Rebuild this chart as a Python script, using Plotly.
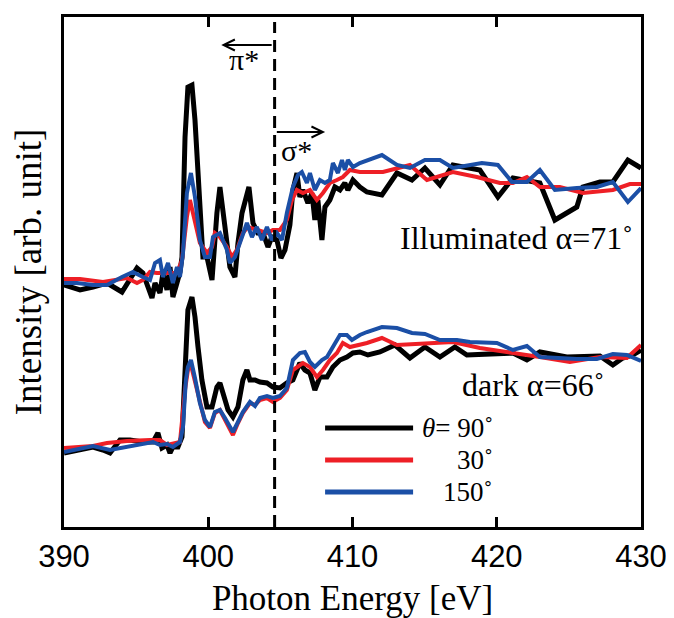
import plotly.graph_objects as go

# ---------------- data ----------------
# Illuminated, alpha = 71 deg (upper spectra)
ill_90_x = [390.0, 391.11, 392.01, 392.98, 394.02, 394.44, 395.06, 395.47, 396.10, 396.31, 396.65, 396.86,
            397.14, 397.35, 397.55, 397.83, 398.04, 398.18, 398.39, 398.59, 398.87, 399.08, 399.42, 399.63,
            399.91, 400.26, 400.60, 400.81, 401.16, 401.50, 401.85, 402.06, 402.34, 402.54, 402.82, 403.10,
            403.44, 403.79, 404.14, 404.41, 404.76, 405.04, 405.32, 405.66, 405.87, 406.15, 406.35, 406.56,
            406.91, 407.19, 407.39, 407.60, 407.88, 408.09, 408.43, 408.78, 409.13, 409.47, 409.68, 410.03,
            410.51, 411.0, 412.04, 413.08, 414.12, 415.02, 416.06, 416.96, 418.83, 420.08, 421.12, 422.99,
            424.03, 425.55, 425.97, 427.15, 428.05, 429.09, 430.0]
ill_90_y = [2.42, 2.37, 2.40, 2.44, 2.35, 2.44, 2.59, 2.54, 2.29, 2.44, 2.34, 2.54,
            2.37, 2.60, 2.30, 2.44, 2.55, 2.70, 3.90, 4.40, 4.42, 4.07, 3.24, 2.70,
            2.70, 2.47, 3.14, 3.40, 3.00, 2.60, 2.50, 2.84, 3.14, 3.24, 3.40, 3.04,
            2.94, 2.94, 2.80, 2.90, 2.87, 2.69, 2.77, 3.02, 3.37, 3.54, 3.30, 3.37,
            3.24, 3.34, 3.07, 3.27, 2.87, 3.20, 3.27, 3.40, 3.37, 3.44, 3.37, 3.47,
            3.40, 3.35, 3.32, 3.54, 3.47, 3.59, 3.42, 3.62, 3.57, 3.30, 3.49, 3.44,
            3.07, 3.20, 3.40, 3.45, 3.45, 3.67, 3.59]

ill_30_x = [390.0, 391.11, 392.70, 393.74, 394.37, 395.06, 395.47, 395.96, 396.44, 397.14, 397.83, 398.18,
            398.52, 398.73, 399.08, 399.42, 399.91, 400.26, 400.46, 400.81, 401.30, 401.64, 401.99, 402.40,
            402.75, 403.37, 404.07, 404.48, 404.97, 405.45, 405.80, 406.15, 406.56, 407.05, 407.53, 407.95,
            408.43, 408.92, 409.33, 409.82, 410.51, 412.11, 413.98, 415.16, 416.96, 418.62, 420.22, 421.12,
            422.09, 422.99, 424.37, 425.97, 428.05, 429.23, 430.0]
ill_30_y = [2.48, 2.48, 2.45, 2.47, 2.49, 2.44, 2.47, 2.55, 2.54, 2.54, 2.54, 2.67,
            3.10, 3.27, 3.04, 2.84, 2.74, 2.80, 2.94, 2.90, 2.80, 2.70, 2.77, 2.94,
            3.00, 2.97, 2.94, 2.97, 2.97, 3.07, 3.27, 3.37, 3.34, 3.37, 3.27, 3.34,
            3.44, 3.47, 3.50, 3.57, 3.55, 3.55, 3.62, 3.47, 3.55, 3.50, 3.44, 3.44,
            3.50, 3.40, 3.40, 3.34, 3.37, 3.43, 3.43]

ill_150_x = [390.0, 390.9, 392.01, 392.98, 394.02, 394.78, 395.47, 395.96, 396.31, 396.65, 396.86, 397.21,
             397.55, 397.83, 398.04, 398.25, 398.52, 398.80, 399.08, 399.42, 399.77, 400.12, 400.33, 400.81,
             401.30, 401.50, 401.85, 402.20, 402.68, 403.03, 403.37, 403.72, 404.07, 404.41, 404.76, 405.11,
             405.45, 405.87, 406.22, 406.49, 406.84, 407.05, 407.39, 407.74, 408.09, 408.43, 408.64, 408.99,
             409.27, 409.47, 409.68, 410.03, 410.51, 412.04, 413.08, 413.98, 415.02, 416.06, 416.96, 418.97,
             420.08, 421.05, 422.09, 422.99, 424.03, 425.55, 426.94, 428.05, 429.09, 430.0]
ill_150_y = [2.44, 2.44, 2.42, 2.42, 2.50, 2.55, 2.50, 2.47, 2.64, 2.67, 2.50, 2.64,
             2.44, 2.60, 2.50, 2.74, 3.34, 3.54, 3.30, 2.87, 2.70, 2.70, 2.90, 2.94,
             2.77, 2.64, 2.70, 2.84, 3.04, 2.90, 3.00, 2.87, 3.00, 2.87, 2.94, 2.87,
             3.14, 3.40, 3.52, 3.55, 3.44, 3.54, 3.37, 3.47, 3.44, 3.47, 3.64, 3.54,
             3.67, 3.57, 3.67, 3.60, 3.64, 3.72, 3.62, 3.59, 3.67, 3.67, 3.59, 3.64,
             3.62, 3.45, 3.45, 3.57, 3.37, 3.39, 3.40, 3.45, 3.25, 3.39]

# Dark, alpha = 66 deg (lower spectra)
dark_90_x = [390.0, 391.11, 392.01, 392.70, 393.19, 393.88, 394.57, 395.47, 396.17, 396.51, 396.79, 397.14,
             397.35, 397.55, 397.90, 398.18, 398.39, 398.59, 398.87, 399.08, 399.29, 399.56, 399.91, 400.26,
             400.60, 400.81, 401.02, 401.37, 401.71, 402.06, 402.40, 402.68, 402.89, 403.24, 403.58, 404.07,
             404.48, 404.97, 405.45, 405.87, 406.35, 406.70, 407.05, 407.39, 407.74, 408.23, 408.64, 409.13,
             409.61, 410.03, 410.51, 411.07, 411.90, 412.94, 413.98, 415.02, 416.06, 417.10, 417.93, 420.01,
             421.12, 422.09, 422.99, 424.86, 427.15, 428.05, 428.74, 429.43, 430.0]
dark_90_y = [0.74, 0.78, 0.80, 0.77, 0.74, 0.87, 0.87, 0.85, 0.85, 0.94, 0.79, 0.82,
             0.74, 0.80, 0.80, 0.90, 1.47, 2.17, 2.30, 2.10, 1.80, 1.47, 1.20, 1.20,
             1.40, 1.44, 1.34, 1.17, 1.10, 1.20, 1.47, 1.57, 1.47, 1.47, 1.45, 1.44,
             1.40, 1.39, 1.44, 1.47, 1.64, 1.57, 1.54, 1.37, 1.50, 1.50, 1.60, 1.67,
             1.70, 1.74, 1.75, 1.72, 1.75, 1.82, 1.69, 1.80, 1.70, 1.80, 1.72, 1.74,
             1.74, 1.67, 1.75, 1.70, 1.71, 1.62, 1.69, 1.72, 1.77]

dark_30_x = [390.0, 392.01, 392.98, 394.37, 395.96, 396.65, 397.14, 397.69, 398.04, 398.39, 398.59, 398.80,
             399.08, 399.42, 399.77, 400.12, 400.46, 400.81, 401.16, 401.50, 401.71, 402.06, 402.40, 402.89,
             403.24, 403.58, 404.07, 404.48, 404.97, 405.45, 405.87, 406.56, 407.05, 407.53, 407.95, 408.43,
             408.92, 409.33, 409.82, 411.0, 412.04, 413.08, 415.16, 416.96, 418.83, 420.91, 422.99, 425.07,
             427.15, 429.02, 429.43, 430.0]
dark_30_y = [0.79, 0.81, 0.84, 0.86, 0.87, 0.87, 0.82, 0.84, 0.85, 1.37, 1.57, 1.62,
             1.45, 1.22, 1.05, 0.99, 1.14, 1.17, 1.07, 0.97, 0.92, 1.04, 1.14, 1.24,
             1.22, 1.27, 1.29, 1.25, 1.29, 1.37, 1.57, 1.64, 1.60, 1.50, 1.57, 1.67,
             1.74, 1.84, 1.80, 1.84, 1.89, 1.82, 1.84, 1.85, 1.79, 1.75, 1.70, 1.65,
             1.70, 1.69, 1.74, 1.82]

dark_150_x = [390.0, 392.01, 393.19, 394.37, 396.17, 396.65, 397.14, 397.55, 398.04, 398.25, 398.45, 398.59,
              398.80, 399.08, 399.42, 399.77, 400.12, 400.46, 400.81, 401.16, 401.50, 401.71, 402.06, 402.40,
              402.89, 403.24, 403.58, 404.07, 404.48, 404.97, 405.45, 405.87, 406.35, 406.70, 407.05, 407.39,
              407.88, 408.23, 408.64, 409.13, 409.61, 409.96, 410.51, 411.0, 412.04, 413.08, 414.12, 415.02,
              416.06, 417.24, 418.14, 420.01, 421.12, 422.09, 422.99, 425.55, 426.94, 428.05, 429.02, 430.0]
dark_150_y = [0.75, 0.81, 0.77, 0.80, 0.85, 0.82, 0.83, 0.80, 0.85, 1.00, 1.47, 1.60,
              1.67, 1.49, 1.24, 1.07, 1.00, 1.15, 1.17, 1.09, 0.99, 0.95, 1.05, 1.15,
              1.25, 1.21, 1.29, 1.31, 1.29, 1.31, 1.39, 1.67, 1.74, 1.75, 1.65, 1.60,
              1.67, 1.70, 1.80, 1.92, 1.92, 1.87, 1.92, 1.95, 2.00, 1.99, 1.94, 1.93,
              1.87, 1.87, 1.85, 1.84, 1.77, 1.81, 1.70, 1.68, 1.68, 1.73, 1.72, 1.66]

x_ticks = [390, 400, 410, 420, 430]
edge_energy = 404.6
legend_labels = ["<i>θ</i>= 90˚", "30˚", "150˚"]

# ---------------- styles ----------------
BLACK = "#000000"
RED = "#ee1f26"
BLUE = "#1b4fa6"
SERIF = "Liberation Serif, Times New Roman, serif"
SANS = "Liberation Sans, Arial, sans-serif"

fig = go.Figure()
series = [
    (ill_90_x, ill_90_y, BLACK, 5), (ill_30_x, ill_30_y, RED, 4), (ill_150_x, ill_150_y, BLUE, 4),
    (dark_90_x, dark_90_y, BLACK, 5), (dark_30_x, dark_30_y, RED, 4), (dark_150_x, dark_150_y, BLUE, 4),
]
# draw black first, then red, then blue on top
for order in (BLACK, RED, BLUE):
    for xs, ys, c, w in series:
        if c == order:
            fig.add_trace(go.Scatter(x=xs, y=ys, mode="lines", line=dict(color=c, width=w),
                                     showlegend=False, hoverinfo="skip"))

# legend drawn manually (long sample lines)
leg_y = [0.99, 0.67, 0.35]
for lab, c, yy in zip(legend_labels, [BLACK, RED, BLUE], leg_y):
    fig.add_shape(type="line", xref="x", yref="y", x0=408.1, x1=414.2, y0=yy, y1=yy,
                  line=dict(color=c, width=5))
    fig.add_annotation(x=419.9, y=yy, xref="x", yref="y", text=lab, showarrow=False,
                       xanchor="right", yanchor="middle", font=dict(family=SERIF, size=27, color="black"))

# dashed vertical line
fig.add_shape(type="line", xref="x", yref="y", x0=edge_energy, x1=edge_energy, y0=0, y1=5.05,
              line=dict(color="black", width=3, dash="12px,7px"))

# arrows
fig.add_annotation(x=400.9, y=4.82, ax=edge_energy - 0.1, ay=4.82, axref="x", ayref="y", xref="x", yref="y",
                   text="", showarrow=True, arrowhead=5, arrowsize=1.1, arrowwidth=2, arrowcolor="black")
fig.add_annotation(x=408.1, y=3.95, ax=edge_energy + 0.05, ay=3.95, axref="x", ayref="y", xref="x", yref="y",
                   text="", showarrow=True, arrowhead=5, arrowsize=1.1, arrowwidth=2, arrowcolor="black")
fig.add_annotation(x=402.5, y=4.68, xref="x", yref="y", text="π*", showarrow=False,
                   font=dict(family=SERIF, size=30, color="black"))
fig.add_annotation(x=406.1, y=3.77, xref="x", yref="y", text="σ*", showarrow=False,
                   font=dict(family=SERIF, size=30, color="black"))

fig.add_annotation(x=429.6, y=2.89, xref="x", yref="y", text="Illuminated α=71˚", showarrow=False,
                   xanchor="right", font=dict(family=SERIF, size=32, color="black"))
fig.add_annotation(x=427.6, y=1.42, xref="x", yref="y", text="dark α=66˚", showarrow=False,
                   xanchor="right", font=dict(family=SERIF, size=32, color="black"))

# the page adds an 8 px body margin, so the figure is laid out 8 px up/left
fig.update_layout(
    width=666, height=610,
    margin=dict(l=56, r=33, t=9, b=91),
    paper_bgcolor="white", plot_bgcolor="white",
    showlegend=False,
)
fig.update_xaxes(
    range=[390, 430], tickvals=x_ticks, ticktext=[str(v) for v in x_ticks],
    ticks="inside", ticklen=10, tickwidth=3, tickcolor="black",
    showline=True, linewidth=3, linecolor="black", mirror="ticks",
    showgrid=False, zeroline=False, automargin=False,
    tickfont=dict(family=SANS, size=31, color="black"),
    title=dict(text="Photon Energy [eV]", font=dict(family=SERIF, size=35, color="black"), standoff=13),
)
fig.update_yaxes(
    range=[0, 5.10], showticklabels=False, ticks="",
    showline=True, linewidth=3, linecolor="black", mirror=True,
    showgrid=False, zeroline=False, automargin=False,
    title=dict(text="Intensity [arb. unit]", font=dict(family=SERIF, size=37, color="black"), standoff=10),
)

fig.write_html("out.html")
